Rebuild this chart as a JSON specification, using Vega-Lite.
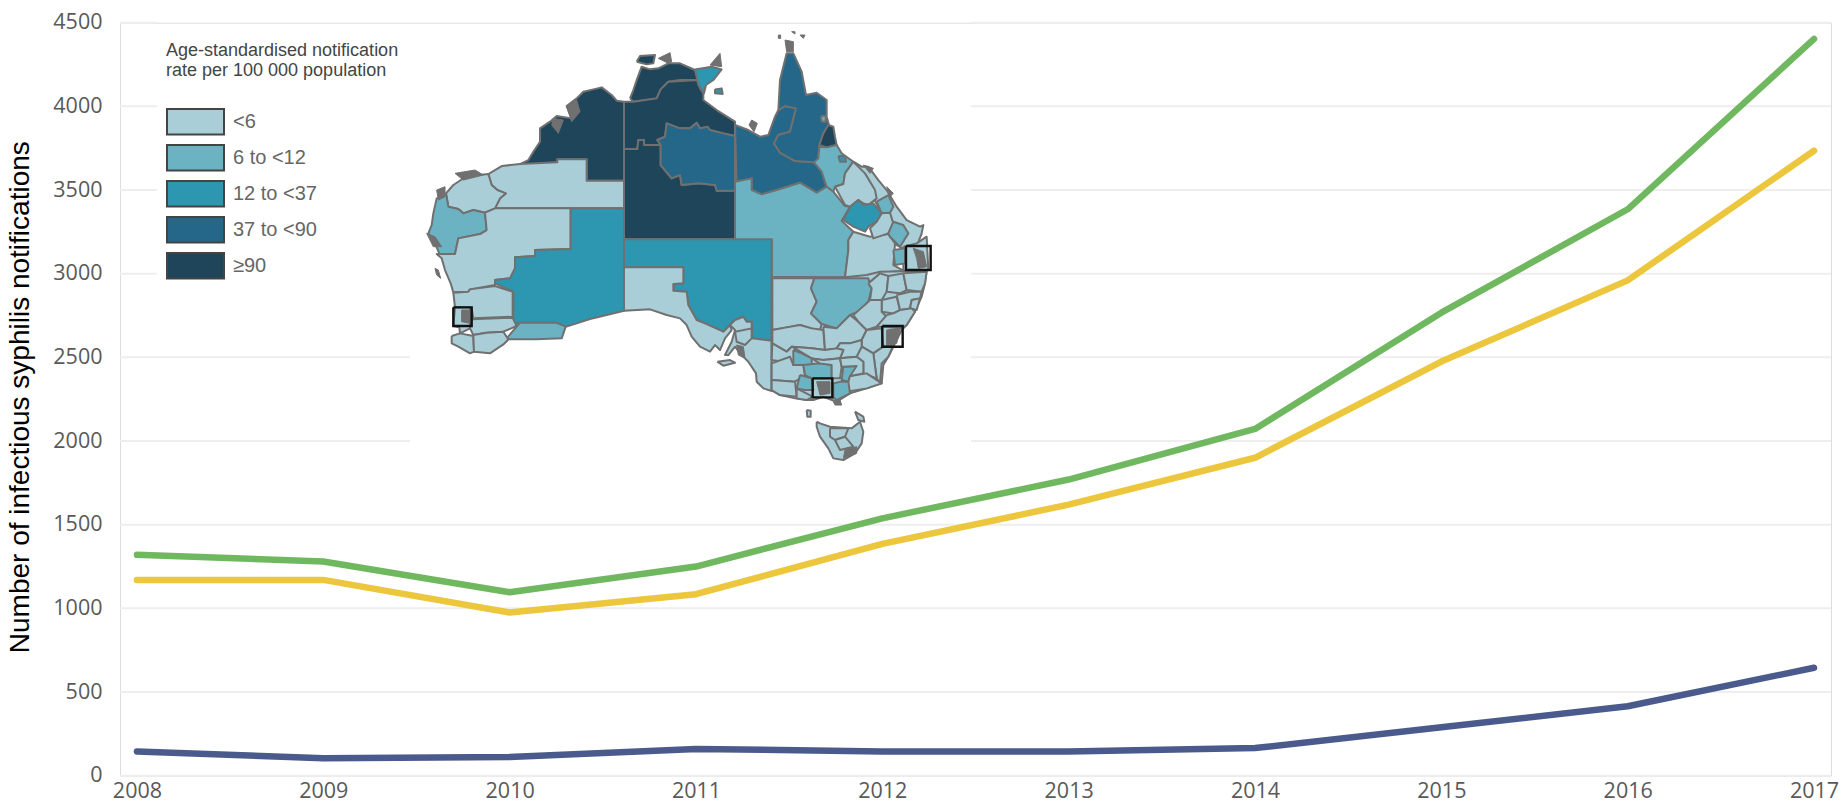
{"$schema":"https://vega.github.io/schema/vega-lite/v6.json","width":1711,"height":753,"autosize":{"type":"none"},"padding":{"left":120,"top":22.7,"right":12,"bottom":31.3},"background":"white",
"layer":[
{"layer":[
{"data":{"values":[
{"v":0,"a":2007.909,"b":2017.091},{"v":500,"a":2007.909,"b":2017.091},{"v":1000,"a":2007.909,"b":2017.091},{"v":1500,"a":2007.909,"b":2017.091},
{"v":2000,"a":2007.909,"b":2009.465},{"v":2000,"a":2012.476,"b":2017.091},{"v":2500,"a":2007.909,"b":2009.465},{"v":2500,"a":2012.476,"b":2017.091},
{"v":3000,"a":2007.909,"b":2008.107},{"v":3000,"a":2012.476,"b":2017.091},{"v":3500,"a":2007.909,"b":2008.107},{"v":3500,"a":2012.476,"b":2017.091},
{"v":4000,"a":2007.909,"b":2008.107},{"v":4000,"a":2012.476,"b":2017.091},{"v":4500,"a":2007.909,"b":2008.107},{"v":4500,"a":2012.476,"b":2017.091}]},
"mark":{"type":"rule","stroke":"#EEEEEE","strokeWidth":2},
"encoding":{"x":{"field":"a","type":"quantitative","scale":{"domain":[2007.909,2017.091],"nice":false},"axis":{"values":[2008,2009,2010,2011,2012,2013,2014,2015,2016,2017],"format":"d","title":null,"grid":false,"domain":false,"ticks":false,"labelFont":"Open Sans","labelFontSize":21.5,"labelColor":"#595959","labelPadding":5,"labelFlush":false}},"x2":{"field":"b"},"y":{"field":"v","type":"quantitative","scale":{"domain":[0,4500],"nice":false},"axis":{"values":[0,500,1000,1500,2000,2500,3000,3500,4000,4500],"format":"d","title":"Number of infectious syphilis notifications","titleFont":"Liberation Sans","titleFontSize":28,"titleFontWeight":"normal","titleColor":"#000000","titleX":-86,"titleY":374,"grid":false,"domain":false,"ticks":false,"labelFont":"Open Sans","labelFontSize":21.5,"labelColor":"#595959","labelPadding":18}}}},
{"data":{"values":[
{"s":"A","year":2008,"n":1320},{"s":"A","year":2009,"n":1280},{"s":"A","year":2010,"n":1096},{"s":"A","year":2011,"n":1250},{"s":"A","year":2012,"n":1538},{"s":"A","year":2013,"n":1770},{"s":"A","year":2014,"n":2072},{"s":"A","year":2015,"n":2767},{"s":"A","year":2016,"n":3385},{"s":"A","year":2017,"n":4403},
{"s":"B","year":2008,"n":1170},{"s":"B","year":2009,"n":1170},{"s":"B","year":2010,"n":975},{"s":"B","year":2011,"n":1085},{"s":"B","year":2012,"n":1385},{"s":"B","year":2013,"n":1620},{"s":"B","year":2014,"n":1900},{"s":"B","year":2015,"n":2475},{"s":"B","year":2016,"n":2960},{"s":"B","year":2017,"n":3735},
{"s":"C","year":2008,"n":145},{"s":"C","year":2009,"n":105},{"s":"C","year":2010,"n":112},{"s":"C","year":2011,"n":160},{"s":"C","year":2012,"n":145},{"s":"C","year":2013,"n":145},{"s":"C","year":2014,"n":165},{"s":"C","year":2015,"n":290},{"s":"C","year":2016,"n":415},{"s":"C","year":2017,"n":645}]},
"mark":{"type":"line","strokeWidth":6.5,"strokeCap":"round","strokeJoin":"round"},
"encoding":{"x":{"field":"year","type":"quantitative"},"y":{"field":"n","type":"quantitative"},"stroke":{"field":"s","type":"nominal","legend":null,"scale":{"domain":["A","B","C"],"range":["#70B85F","#ECC73E","#4A5A8C"]}}}}
]},
{"layer":[
{"data":{"values":[
{"id":"coastA","rate":"≥90","p":[[612,215],[590,212],[575,195],[545,172],[520,178],[490,185],[470,205],[440,228],[455,265],[410,258],[390,275],[360,295],[360,335],[340,365],[325,390],[300,402],[345,402],[412,397],[412,388],[500,388],[500,452],[612,452],[612,215]]},
{"id":"B","rate":"<6","p":[[205,432],[245,408],[300,402],[412,397],[412,388],[500,388],[500,452],[612,452],[612,535],[225,535],[245,495],[255,490],[232,480],[215,465],[205,432]]},
{"id":"C","rate":"<6","p":[[205,432],[215,465],[232,480],[258,490],[240,505],[225,535],[195,548],[160,540],[130,550],[115,537],[85,530],[78,490],[100,465],[150,432],[175,435],[205,432]]},
{"id":"D","rate":"6 to <12","p":[[78,490],[85,530],[115,537],[130,550],[160,540],[195,548],[200,600],[180,612],[115,625],[105,672],[60,675],[45,640],[25,610],[35,585],[40,550],[50,505],[65,500],[78,490]]},
{"id":"E","rate":"<6","p":[[225,535],[452,535],[452,657],[345,660],[345,678],[285,682],[285,715],[270,745],[225,750],[225,765],[150,778],[145,785],[100,787],[92,760],[75,720],[65,685],[50,672],[105,672],[115,625],[180,612],[200,600],[195,548],[225,535]]},
{"id":"F","rate":"12 to <37","p":[[452,535],[612,535],[612,842],[560,855],[510,867],[470,880],[437,890],[408,878],[300,878],[280,885],[280,785],[225,760],[225,750],[270,745],[285,715],[285,682],[345,678],[345,660],[452,657],[452,535]]},
{"id":"G","rate":"6 to <12","p":[[300,878],[408,878],[437,890],[425,925],[350,928],[265,928],[250,943],[260,925],[290,890],[300,878]]},
{"id":"H","rate":"<6","p":[[100,788],[145,785],[150,778],[225,768],[278,785],[278,860],[160,865],[155,835],[105,832],[100,788]]},
{"id":"I","rate":"<6","p":[[155,868],[278,863],[290,888],[250,905],[200,908],[160,915],[150,895],[155,868]]},
{"id":"J","rate":"<6","p":[[95,918],[120,910],[160,918],[162,965],[150,970],[115,950],[95,940],[95,918]]},
{"id":"K","rate":"<6","p":[[160,915],[200,908],[250,905],[265,928],[250,943],[210,970],[162,965],[160,915]]},
{"id":"L","rate":"<6","p":[[105,832],[150,832],[150,895],[120,910],[118,892],[100,888],[105,832]]},
{"id":"Tiwi","rate":"≥90","p":[[650,95],[660,78],[705,75],[700,100],[680,103],[650,95]]},
{"id":"P1","rate":"≥90","p":[[630,205],[640,180],[650,150],[665,110],[690,118],[715,115],[745,100],[780,100],[825,120],[835,150],[780,150],[745,155],[722,178],[710,205],[660,212],[640,215],[630,205]]},
{"id":"P2","rate":"≥90","p":[[612,215],[640,215],[660,212],[710,205],[722,178],[745,155],[835,150],[840,175],[850,190],[850,210],[890,240],[945,275],[945,318],[910,310],[870,300],[862,290],[840,295],[830,278],[810,295],[780,295],[740,280],[735,320],[712,330],[722,345],[672,345],[672,330],[655,330],[652,357],[612,357],[612,215]]},
{"id":"N","rate":"12 to <37","p":[[825,118],[875,110],[905,118],[880,150],[858,165],[852,190],[835,165],[825,118]]},
{"id":"N2","rate":"12 to <37","p":[[885,178],[905,175],[908,192],[885,190],[885,178]]},
{"id":"O","rate":"≥90","p":[[612,357],[652,357],[655,330],[672,330],[672,345],[722,345],[722,405],[755,445],[780,435],[785,465],[835,460],[885,465],[890,482],[945,482],[945,628],[612,628],[612,357]]},
{"id":"Pc","rate":"37 to <90","p":[[780,295],[810,295],[830,278],[840,295],[862,290],[870,300],[910,310],[945,318],[945,482],[890,482],[885,465],[835,460],[785,465],[780,435],[755,445],[722,405],[722,345],[712,330],[735,320],[740,280],[780,295]]},
{"id":"Qw","rate":"37 to <90","p":[[1075,240],[1095,228],[1128,235],[1110,305],[1075,315],[1062,340],[1080,368],[1125,393],[1182,397],[1205,425],[1220,470],[1190,488],[1140,458],[1070,480],[1025,493],[995,480],[995,445],[950,455],[945,285],[985,300],[1020,320],[1045,315],[1065,260],[1075,240]]},
{"id":"Qe","rate":"37 to <90","p":[[1075,240],[1080,150],[1100,70],[1120,70],[1145,125],[1158,195],[1190,188],[1220,210],[1220,260],[1227,285],[1210,310],[1198,345],[1195,385],[1182,397],[1125,393],[1080,368],[1062,340],[1075,315],[1110,305],[1128,235],[1095,228],[1075,240]]},
{"id":"Cairns","rate":"≥90","p":[[1198,345],[1210,310],[1225,285],[1240,290],[1245,320],[1250,345],[1220,352],[1198,345]]},
{"id":"dotW","rate":"6 to <12","p":[[1203,258],[1217,258],[1217,275],[1205,275],[1203,258]]},
{"id":"baseQc","rate":"<6","p":[[1300,395],[1325,410],[1345,410],[1375,450],[1400,480],[1430,530],[1460,570],[1500,590],[1510,585],[1505,610],[1490,650],[1458,660],[1420,640],[1380,540],[1300,395]]},
{"id":"Tv","rate":"6 to <12","p":[[1182,397],[1195,385],[1198,350],[1220,352],[1250,345],[1265,370],[1300,395],[1275,430],[1270,462],[1245,470],[1240,485],[1220,470],[1205,425],[1182,397]]},
{"id":"dotT","rate":"12 to <37","p":[[1255,378],[1275,378],[1278,395],[1260,395],[1255,378]]},
{"id":"S","rate":"6 to <12","p":[[945,455],[995,445],[995,480],[1025,493],[1070,480],[1140,458],[1190,488],[1220,470],[1240,485],[1275,528],[1290,530],[1265,572],[1300,605],[1285,630],[1285,660],[1275,742],[1055,742],[1055,630],[945,630],[945,455]]},
{"id":"Y","rate":"<6","p":[[1245,470],[1270,462],[1275,430],[1300,395],[1335,430],[1365,480],[1370,505],[1345,525],[1330,520],[1315,510],[1290,530],[1275,525],[1245,470]]},
{"id":"W","rate":"<6","p":[[1285,630],[1300,605],[1350,620],[1405,612],[1425,640],[1420,705],[1450,722],[1380,728],[1340,740],[1275,742],[1285,660],[1285,630]]},
{"id":"X","rate":"12 to <37","p":[[1270,570],[1290,530],[1315,510],[1330,525],[1360,520],[1385,550],[1370,575],[1345,590],[1335,605],[1300,590],[1270,570]]},
{"id":"Z","rate":"6 to <12","p":[[1370,515],[1405,495],[1420,530],[1410,548],[1385,550],[1370,515]]},
{"id":"AA","rate":"<6","p":[[1385,550],[1410,548],[1420,580],[1405,610],[1360,625],[1350,595],[1370,575],[1385,550]]},
{"id":"AB","rate":"6 to <12","p":[[1420,575],[1450,585],[1465,610],[1440,650],[1410,620],[1405,610],[1420,575]]},
{"id":"AC","rate":"<6","p":[[1450,650],[1490,640],[1520,620],[1525,720],[1450,722],[1450,650]]},
{"id":"AD","rate":"6 to <12","p":[[1420,660],[1455,655],[1455,700],[1425,705],[1420,660]]},
{"id":"T","rate":"12 to <37","p":[[612,628],[1055,628],[1055,932],[995,925],[995,875],[980,875],[970,860],[945,870],[930,885],[910,905],[855,880],[830,870],[805,825],[800,785],[760,782],[760,762],[790,760],[790,712],[612,712],[612,628]]},
{"id":"U","rate":"<6","p":[[612,712],[790,712],[790,760],[760,762],[760,782],[800,785],[805,825],[830,870],[855,880],[910,905],[930,885],[935,900],[915,925],[900,960],[885,945],[870,965],[840,950],[815,920],[800,885],[780,865],[740,855],[690,838],[612,842],[612,712]]},
{"id":"V","rate":"<6","p":[[930,885],[945,870],[970,860],[980,875],[995,875],[995,925],[1055,932],[1055,1083],[1030,1075],[1010,1055],[1008,1030],[985,995],[960,970],[945,950],[925,975],[915,975],[935,935],[945,900],[930,885]]},
{"id":"V2","rate":"<6","p":[[945,905],[995,895],[995,925],[975,945],[950,935],[945,905]]},
{"id":"Kang","rate":"<6","p":[[892,995],[930,990],[945,998],[910,1007],[892,995]]},
{"id":"baseSE","rate":"<6","p":[[1055,742],[1275,742],[1340,735],[1380,725],[1520,722],[1515,760],[1505,800],[1485,845],[1460,885],[1445,900],[1420,950],[1405,980],[1390,1005],[1385,1060],[1340,1075],[1290,1090],[1250,1115],[1210,1100],[1180,1110],[1160,1110],[1125,1105],[1080,1095],[1055,1080],[1055,742]]},
{"id":"n1","rate":"<6","p":[[1057,745],[1183,745],[1173,775],[1190,815],[1173,850],[1205,882],[1200,900],[1175,895],[1140,885],[1100,892],[1057,900],[1057,745]]},
{"id":"n2","rate":"6 to <12","p":[[1183,745],[1345,745],[1355,775],[1345,815],[1315,845],[1290,855],[1250,895],[1205,882],[1173,850],[1190,815],[1173,775],[1183,745]]},
{"id":"n3","rate":"<6","p":[[1057,900],[1100,892],[1140,885],[1175,895],[1210,900],[1215,960],[1175,955],[1115,950],[1100,965],[1057,940],[1057,900]]},
{"id":"n4","rate":"<6","p":[[1210,890],[1250,895],[1290,855],[1315,875],[1340,900],[1325,930],[1290,940],[1260,940],[1250,955],[1215,960],[1210,890]]},
{"id":"a","rate":"<6","p":[[1345,760],[1380,730],[1405,738],[1400,785],[1385,810],[1350,810],[1355,775],[1345,760]]},
{"id":"b","rate":"<6","p":[[1405,738],[1450,730],[1460,780],[1440,790],[1400,785],[1405,738]]},
{"id":"c","rate":"<6","p":[[1450,730],[1520,725],[1515,760],[1505,785],[1460,780],[1450,730]]},
{"id":"d","rate":"<6","p":[[1385,810],[1430,800],[1440,840],[1420,850],[1385,845],[1385,810]]},
{"id":"e","rate":"<6","p":[[1430,795],[1470,785],[1505,785],[1500,805],[1475,810],[1470,835],[1440,840],[1430,795]]},
{"id":"f","rate":"<6","p":[[1475,810],[1500,805],[1490,840],[1470,835],[1475,810]]},
{"id":"g","rate":"<6","p":[[1345,815],[1350,810],[1385,810],[1385,845],[1400,860],[1370,890],[1340,900],[1315,875],[1300,855],[1345,815]]},
{"id":"h","rate":"<6","p":[[1400,855],[1420,850],[1440,840],[1475,835],[1485,845],[1460,885],[1445,895],[1390,890],[1370,890],[1400,855]]},
{"id":"i","rate":"<6","p":[[1340,900],[1385,895],[1390,950],[1360,970],[1325,950],[1325,930],[1340,900]]},
{"id":"j","rate":"<6","p":[[1390,950],[1420,945],[1405,980],[1385,1000],[1380,1060],[1370,1045],[1360,970],[1390,950]]},
{"id":"k","rate":"<6","p":[[1325,950],[1360,970],[1370,1045],[1330,1030],[1330,995],[1310,980],[1320,955],[1325,950]]},
{"id":"l","rate":"<6","p":[[1290,940],[1325,930],[1325,950],[1310,980],[1260,985],[1270,960],[1250,955],[1260,940],[1290,940]]},
{"id":"m","rate":"<6","p":[[1115,950],[1175,955],[1215,960],[1250,955],[1270,960],[1260,985],[1210,990],[1175,985],[1125,955],[1115,950]]},
{"id":"v1","rate":"<6","p":[[1057,940],[1100,965],[1115,950],[1125,955],[1120,1000],[1055,990],[1057,940]]},
{"id":"v2","rate":"<6","p":[[1055,1000],[1110,980],[1120,1005],[1150,1005],[1155,1035],[1125,1055],[1055,1050],[1055,1000]]},
{"id":"v3","rate":"<6","p":[[1055,1050],[1125,1055],[1130,1100],[1080,1095],[1055,1080],[1055,1050]]},
{"id":"v4","rate":"6 to <12","p":[[1120,960],[1145,970],[1175,985],[1175,1005],[1150,1005],[1120,1005],[1120,960]]},
{"id":"v5","rate":"6 to <12","p":[[1150,1005],[1200,1000],[1235,1005],[1235,1045],[1175,1045],[1155,1035],[1150,1005]]},
{"id":"v6","rate":"6 to <12","p":[[1140,1035],[1175,1045],[1180,1080],[1155,1080],[1130,1075],[1140,1035]]},
{"id":"v7","rate":"<6","p":[[1130,1075],[1178,1100],[1160,1110],[1130,1105],[1130,1075]]},
{"id":"v8","rate":"<6","p":[[1210,990],[1260,985],[1265,1010],[1260,1045],[1235,1045],[1235,1005],[1200,1000],[1175,985],[1210,990]]},
{"id":"v9","rate":"6 to <12","p":[[1270,1010],[1310,1008],[1310,1035],[1290,1038],[1285,1055],[1265,1050],[1270,1010]]},
{"id":"v10","rate":"<6","p":[[1290,1038],[1340,1030],[1385,1060],[1340,1075],[1280,1085],[1285,1055],[1290,1038]]},
{"id":"v11","rate":"6 to <12","p":[[1260,1055],[1285,1055],[1290,1090],[1250,1110],[1240,1102],[1240,1060],[1260,1055]]},
{"id":"v12","rate":"<6","p":[[1310,980],[1330,995],[1330,1030],[1290,1038],[1310,1008],[1270,1010],[1265,1010],[1260,985],[1310,980]]},
{"id":"Tas","rate":"<6","p":[[1190,1175],[1200,1180],[1230,1190],[1295,1195],[1320,1175],[1330,1205],[1325,1240],[1305,1270],[1270,1290],[1240,1285],[1225,1255],[1200,1220],[1190,1190],[1190,1175]]},
{"id":"Tas2","rate":"<6","p":[[1230,1195],[1285,1195],[1275,1220],[1245,1230],[1230,1220],[1230,1195]]},
{"id":"Tas3","rate":"<6","p":[[1245,1230],[1275,1220],[1300,1250],[1260,1260],[1245,1230]]},
{"id":"King","rate":"<6","p":[[1160,1140],[1172,1142],[1172,1160],[1162,1160],[1160,1140]]},
{"id":"Flin","rate":"<6","p":[[1305,1145],[1330,1160],[1333,1175],[1315,1170],[1305,1145]]}
]},
"transform":[{"flatten":["p"]}],
"mark":{"type":"line","order":false,"stroke":"#707070","strokeWidth":2,"strokeJoin":"round"},
"encoding":{"x":{"field":"p[0]","type":"quantitative","scale":{"domain":[-900,4233],"nice":false,"zero":false},"axis":null},"y":{"field":"p[1]","type":"quantitative","scale":{"domain":[2237,-22],"nice":false,"zero":false},"axis":null},"detail":{"field":"id"},
"fill":{"field":"rate","type":"nominal","scale":{"domain":["<6","6 to <12","12 to <37","37 to <90","≥90"],"range":["#A9CED8","#6BB3C3","#2D96B1","#246788","#1F455B"]},"legend":{"orient":"none","legendX":46,"legendY":19,"title":["Age-standardised notification","rate per 100 000 population"],"titleLimit":400,"titleFont":"Liberation Sans","titleFontSize":18,"titleFontWeight":"normal","titleColor":"#444444","titleLineHeight":20,"titlePadding":24,"labelFont":"Liberation Sans","labelFontSize":20,"labelColor":"#666666","labelOffset":8,"symbolType":"M-1,-0.45H1V0.45H-1Z","symbolSize":3249,"symbolStrokeColor":"#444444","symbolStrokeWidth":2,"symbolOpacity":1,"rowPadding":0,"clipHeight":36}}}},
{"data":{"values":[
{"id":"g1","p":[[440,230],[470,210],[480,245],[455,275],[440,230]]},
{"id":"g2","p":[[400,265],[430,270],[415,310],[395,285],[400,265]]},
{"id":"g3","p":[[20,610],[45,620],[65,650],[40,650],[20,610]]},
{"id":"g4","p":[[105,430],[165,420],[190,435],[130,450],[105,430]]},
{"id":"g5","p":[[50,480],[75,470],[75,500],[55,510],[50,480]]},
{"id":"g6","p":[[1095,30],[1120,35],[1120,65],[1100,65],[1095,30]]},
{"id":"g7","p":[[870,105],[900,70],[905,110],[870,105]]},
{"id":"g8","p":[[1075,15],[1082,15],[1082,25],[1075,25],[1075,15]]},
{"id":"g9","p":[[1115,5],[1125,5],[1125,12],[1115,5]]},
{"id":"g10","p":[[1140,15],[1155,15],[1150,25],[1140,15]]},
{"id":"g11","p":[[1330,405],[1360,415],[1350,430],[1330,405]]},
{"id":"g12","p":[[1400,470],[1420,490],[1410,500],[1400,470]]},
{"id":"g13","p":[[715,85],[750,68],[755,95],[745,100],[715,85]]},
{"id":"g14","p":[[45,715],[55,720],[62,745],[50,735],[45,715]]},
{"id":"g15","p":[[987,285],[995,270],[1012,280],[1002,305],[987,285]]},
{"id":"g16","p":[[950,945],[970,950],[975,985],[955,975],[950,945]]},
{"id":"g17","p":[[1240,1115],[1260,1110],[1265,1125],[1245,1125],[1240,1115]]},
{"id":"g18","p":[[1275,1260],[1310,1250],[1310,1270],[1270,1285],[1275,1260]]},
{"id":"g19","p":[[125,840],[150,840],[150,880],[125,875],[125,840]]},
{"id":"g20","p":[[1480,655],[1510,665],[1520,710],[1495,715],[1490,685],[1480,655]]},
{"id":"g21","p":[[1400,900],[1440,895],[1430,940],[1400,945],[1400,900]]},
{"id":"g22","p":[[1190,1055],[1230,1055],[1230,1090],[1200,1095],[1190,1055]]}
]},
"transform":[{"flatten":["p"]}],
"mark":{"type":"line","order":false,"fill":"#707070","stroke":"#707070","strokeWidth":1},
"encoding":{"x":{"field":"p[0]","type":"quantitative","axis":null},"y":{"field":"p[1]","type":"quantitative","axis":null},"detail":{"field":"id"}}},
{"data":{"values":[
{"id":"Perth","p":[[100,832],[155,832],[155,888],[100,888],[100,832]]},
{"id":"Brisbane","p":[[1458,648],[1532,648],[1532,720],[1458,720],[1458,648]]},
{"id":"Sydney","p":[[1387,888],[1448,888],[1448,950],[1387,950],[1387,888]]},
{"id":"Melbourne","p":[[1178,1045],[1237,1045],[1237,1102],[1178,1102],[1178,1045]]}
]},
"transform":[{"flatten":["p"]}],
"mark":{"type":"line","order":false,"stroke":"#111111","strokeWidth":2.4,"strokeJoin":"miter"},
"encoding":{"x":{"field":"p[0]","type":"quantitative","axis":null},"y":{"field":"p[1]","type":"quantitative","axis":null},"detail":{"field":"id"}}}
]}
],
"resolve":{"scale":{"x":"independent","y":"independent"}}}
